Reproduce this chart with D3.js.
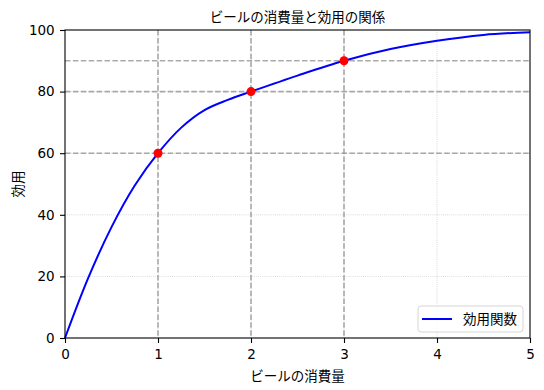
<!DOCTYPE html>
<html>
<head>
<meta charset="utf-8">
<script src="https://cdn.jsdelivr.net/npm/d3@7"></script>
<style>
  body { margin: 0; background: #fff; }
  svg { display: block; }
  .tick text { font-family: "DejaVu Sans", sans-serif; font-size: 13.5px; fill: #000; }
  .jp { font-family: "Noto Sans CJK JP", sans-serif; fill: #000; }
</style>
</head>
<body>
<svg id="chart" width="544" height="390"></svg>
<script>
// values
var curveX = [0, 0.25, 0.5, 0.75, 1, 1.25, 1.5, 1.75, 2, 2.5, 3, 3.5, 4, 4.5, 5];
var curveY = [0, 19.5, 36, 49.5, 60, 68.3, 74, 77.3, 80, 85.2, 90, 93.8, 96.5, 98.4, 99.3];
// marked points
var markX = [1, 2, 3];
var markY = [60, 80, 90];
var xTicks = [0, 1, 2, 3, 4, 5];
var yTicks = [0, 20, 40, 60, 80, 100];

var margin = {left: 65, top: 30, right: 14, bottom: 52};
var w = 544 - margin.left - margin.right, h = 390 - margin.top - margin.bottom;

var svg = d3.select('#chart');
var g = svg.append('g').attr('transform', 'translate(' + margin.left + ',' + margin.top + ')');

var x = d3.scaleLinear().domain([0, 5]).range([0, w]);
var y = d3.scaleLinear().domain([0, 100]).range([h, 0]);

// dotted grid
g.selectAll('.gx').data(xTicks.slice(1, -1)).enter().append('line')
  .attr('x1', d => x(d)).attr('x2', d => x(d)).attr('y1', 0).attr('y2', h)
  .attr('stroke', '#b0b0b0').attr('stroke-width', 0.8).attr('stroke-dasharray', '0.8,1.3').attr('opacity', 0.7);
g.selectAll('.gy').data(yTicks.slice(1, -1)).enter().append('line')
  .attr('y1', d => y(d)).attr('y2', d => y(d)).attr('x1', 0).attr('x2', w)
  .attr('stroke', '#b0b0b0').attr('stroke-width', 0.8).attr('stroke-dasharray', '0.8,1.3').attr('opacity', 0.7);

// dashed guide lines
g.selectAll('.vx').data(markX).enter().append('line')
  .attr('x1', d => x(d)).attr('x2', d => x(d)).attr('y1', 0).attr('y2', h)
  .attr('stroke', '#8f8f8f').attr('stroke-width', 1.6).attr('stroke-dasharray', '5.5,2.4').attr('opacity', 0.75);
g.selectAll('.hy').data(markY).enter().append('line')
  .attr('y1', d => y(d)).attr('y2', d => y(d)).attr('x1', 0).attr('x2', w)
  .attr('stroke', '#8f8f8f').attr('stroke-width', 1.6).attr('stroke-dasharray', '5.5,2.4').attr('opacity', 0.75);

// curve
var pts = curveX.map((d, i) => [d, curveY[i]]);
g.append('path').datum(pts)
  .attr('fill', 'none').attr('stroke', '#0000ff').attr('stroke-width', 2)
  .attr('d', d3.line().x(d => x(d[0])).y(d => y(d[1])).curve(d3.curveCatmullRom.alpha(0.5)));

g.selectAll('.pt').data(markX).enter().append('circle')
  .attr('cx', d => x(d)).attr('cy', (d, i) => y(markY[i])).attr('r', 4.5).attr('fill', '#ff0000');

// axes
var xAxis = g.append('g').attr('transform', 'translate(0,' + h + ')')
  .call(d3.axisBottom(x).tickValues(xTicks).tickFormat(d3.format('d')).tickSize(5).tickPadding(4));
var yAxis = g.append('g')
  .call(d3.axisLeft(y).tickValues(yTicks).tickFormat(d3.format('d')).tickSize(5).tickPadding(4));
[xAxis, yAxis].forEach(function(a){
  a.select('.domain').remove();
  a.selectAll('.tick line').attr('stroke', '#000').attr('stroke-width', 1.1);
});
xAxis.selectAll('.tick text').attr('dy', '0.9em');
yAxis.selectAll('.tick text').attr('dx', '-0.1em');

g.append('rect').attr('width', w).attr('height', h)
  .attr('fill', 'none').attr('stroke', '#000').attr('stroke-width', 1.1);

// texts
svg.append('text').attr('class', 'jp').attr('x', margin.left + w / 2).attr('y', 22)
  .attr('text-anchor', 'middle').attr('font-size', 13.5).text('ビールの消費量と効用の関係');
svg.append('text').attr('class', 'jp').attr('x', margin.left + w / 2).attr('y', 381)
  .attr('text-anchor', 'middle').attr('font-size', 13.5).text('ビールの消費量');
svg.append('text').attr('class', 'jp')
  .attr('transform', 'translate(23,' + (margin.top + h / 2) + ') rotate(-90)')
  .attr('text-anchor', 'middle').attr('font-size', 13.5).text('効用');

// legend
var lg = svg.append('g').attr('transform', 'translate(418,306)');
lg.append('rect').attr('width', 105).attr('height', 26).attr('rx', 3)
  .attr('fill', '#fff').attr('fill-opacity', 0.8).attr('stroke', '#d6d6d6').attr('stroke-width', 1);
lg.append('line').attr('x1', 4).attr('x2', 34).attr('y1', 13).attr('y2', 13)
  .attr('stroke', '#0000ff').attr('stroke-width', 2);
lg.append('text').attr('class', 'jp').attr('x', 45).attr('y', 18).attr('font-size', 13.5).text('効用関数');
</script>
</body>
</html>
